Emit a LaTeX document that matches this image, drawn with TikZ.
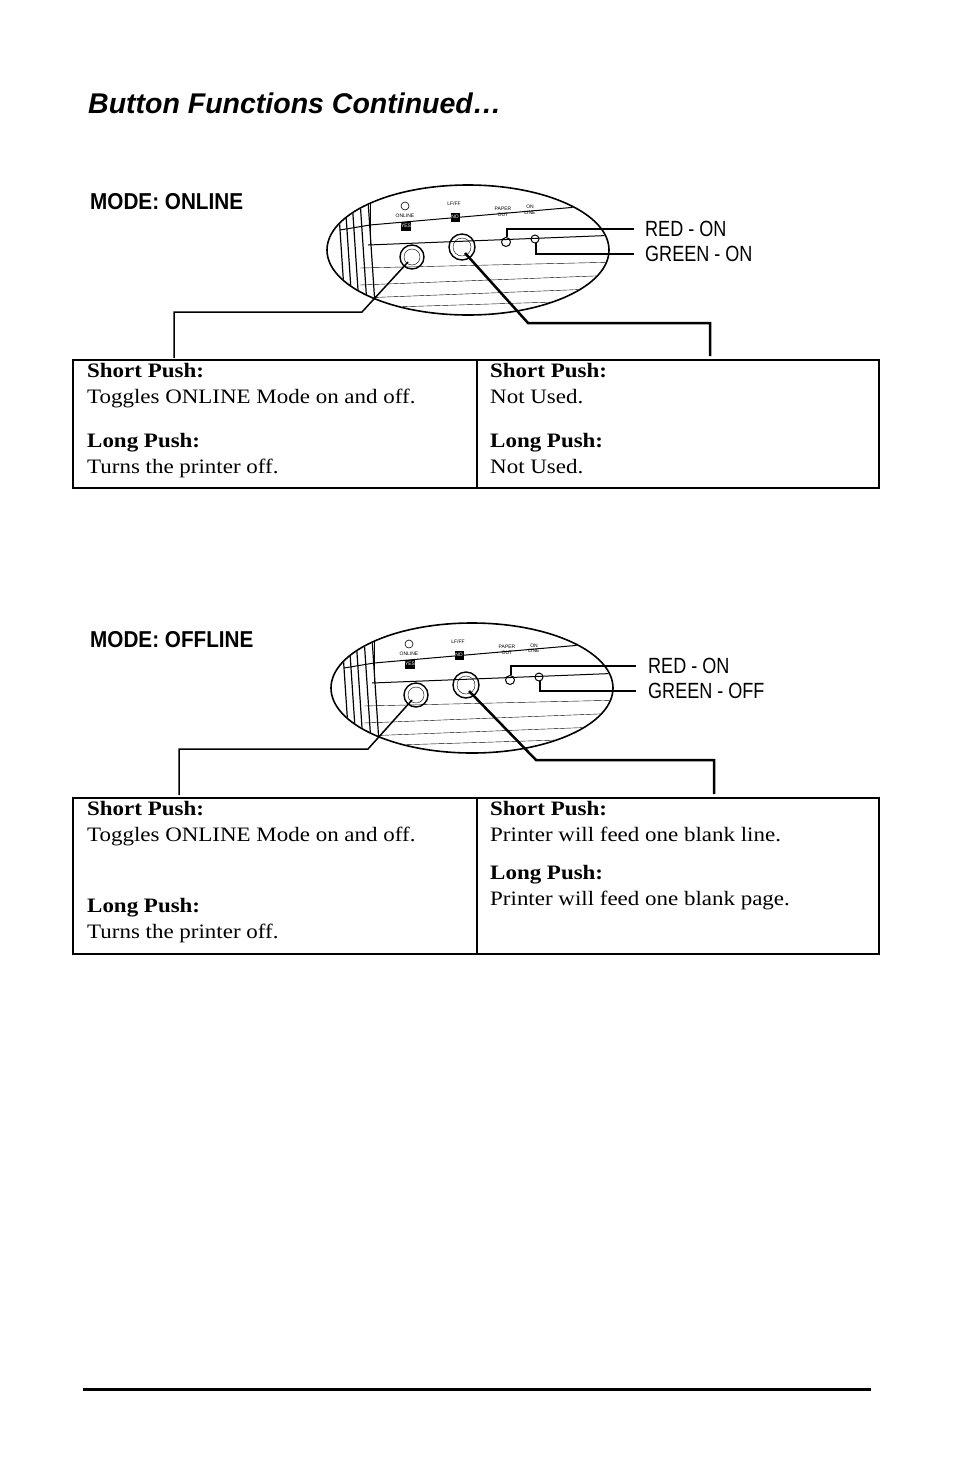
\documentclass[tikz,border=0pt]{standalone}
\usepackage{fontspec}
\usetikzlibrary{shapes.geometric}
\setmainfont{Liberation Serif}[FakeStretch=1.12]
\setsansfont{Liberation Sans}
\newfontfamily\narrowsans{Liberation Sans}[FakeStretch=0.82]
\newfontfamily\modesans{Liberation Sans}[FakeStretch=0.9]
\begin{document}
\begin{tikzpicture}[x=1pt,y=-1pt,
  box/.style={draw,line width=2pt},
  lead/.style={line width=2.5pt},
  ledtxt/.style={anchor=west,font=\narrowsans\fontsize{22}{22}\selectfont,inner sep=0},
  modetxt/.style={anchor=west,font=\modesans\bfseries\fontsize{23}{23}\selectfont,inner sep=0},
  cell/.style={anchor=north west,align=left,inner sep=0,font=\fontsize{20.5}{26}\selectfont},
  tiny/.style={font=\sffamily\fontsize{5}{5.5}\selectfont,inner sep=0,align=center}]
\useasboundingbox (0,0) rectangle (954,1475);
\node[anchor=west,inner sep=0,font=\sffamily\bfseries\itshape\fontsize{28.5}{30}\selectfont] (title) at (88,103) {Button Functions Continued…};
\newcommand{\panel}[3]{%
 \begin{scope}[shift={(#1,#2)}]
  \node[draw,line width=1.6pt,ellipse,minimum width=282pt,minimum height=130pt,inner sep=0] (E#3) at (468,250) {};
  \begin{scope}
   \clip (468,250) ellipse (140 and 64);
   \draw[line width=1pt] (340,230) -- (370,225) -- (600,205);
   \draw[line width=1pt] (368,245) -- (620,235);
   \draw (360,268) -- (620,262);
   \draw (360,285) -- (620,275);
   \draw (360,298) -- (620,288);
   \draw (360,308) -- (620,300);
   \foreach \x in {338,345,352,360,368}{\draw[line width=1.2pt] (\x,200) -- (\x+8,320);}
   \draw[line width=1pt] (370,200) -- (370,245);
  \end{scope}
  \draw[line width=1.4pt] (412,257) circle (12); \draw (412,257) circle (8);
  \draw[line width=1.4pt] (462,247) circle (13); \draw (462,247) circle (9);
  \draw[line width=1pt] (506,242) circle (4.5);
  \draw[line width=1pt] (535,239) circle (4);
  \draw[line width=0.6pt] (405,206) circle (4);
  \node[tiny] at (405,216) {ONLINE};
  \node[fill=black,text=white,tiny,minimum width=9pt,minimum height=9pt] at (406,226) {YES};
  \node[tiny] at (454,204) {LF/FF};
  \node[fill=black,text=white,tiny,minimum width=9pt,minimum height=9pt] at (455,217) {NO};
  \node[tiny] at (503,212) {PAPER\\OUT};
  \node[tiny] at (530,210) {ON\\LINE};
  \coordinate (B1#3) at (408,262);
  \coordinate (B2#3) at (465,253);
 \end{scope}}
% ---- online
\node[modetxt] (m1) at (90,202) {MODE: ONLINE};
\panel{0}{0}{a}
\draw[lead] (507,237) -- (507,229) -- (634,229);
\draw[lead] (536,243) -- (536,254) -- (634,254);
\node[ledtxt] (r1) at (645,229) {RED - ON};
\node[ledtxt] (g1) at (645,254) {GREEN - ON};
\draw[line width=1.5pt] (B1a) -- (362,312) -- (174,312) -- (174,358);
\draw[line width=2.5pt] (B2a) -- (528,323) -- (710,323) -- (710,356);
\draw[box] (73,360) rectangle (879,488);
\draw[box] (477,360) -- (477,488);
\node[cell] (c1) at (87,363) {\textbf{Short Push:}\\Toggles ONLINE Mode on and off.\\[18pt]\textbf{Long Push:}\\Turns the printer off.};
\node[cell] (c2) at (490,363) {\textbf{Short Push:}\\Not Used.\\[18pt]\textbf{Long Push:}\\Not Used.};
% ---- offline
\node[modetxt] (m2) at (90,640) {MODE: OFFLINE};
\panel{4}{438}{b}
\draw[lead] (511,675) -- (511,666) -- (636,666);
\draw[lead] (540,681) -- (540,691) -- (636,691);
\node[ledtxt] (r2) at (648,666) {RED - ON};
\node[ledtxt] (g2) at (648,691) {GREEN - OFF};
\draw[line width=1.5pt] (B1b) -- (368,749) -- (179,749) -- (179,795);
\draw[line width=2.5pt] (B2b) -- (536,760) -- (714,760) -- (714,794);
\draw[box] (73,798) rectangle (879,954);
\draw[box] (477,798) -- (477,954);
\node[cell] (c3) at (87,801) {\textbf{Short Push:}\\Toggles ONLINE Mode on and off.\\[45pt]\textbf{Long Push:}\\Turns the printer off.};
\node[cell] (c4) at (490,801) {\textbf{Short Push:}\\Printer will feed one blank line.\\[12pt]\textbf{Long Push:}\\Printer will feed one blank page.};
\draw[line width=3pt] (83,1389) -- (871,1389);
\end{tikzpicture}
\end{document}
